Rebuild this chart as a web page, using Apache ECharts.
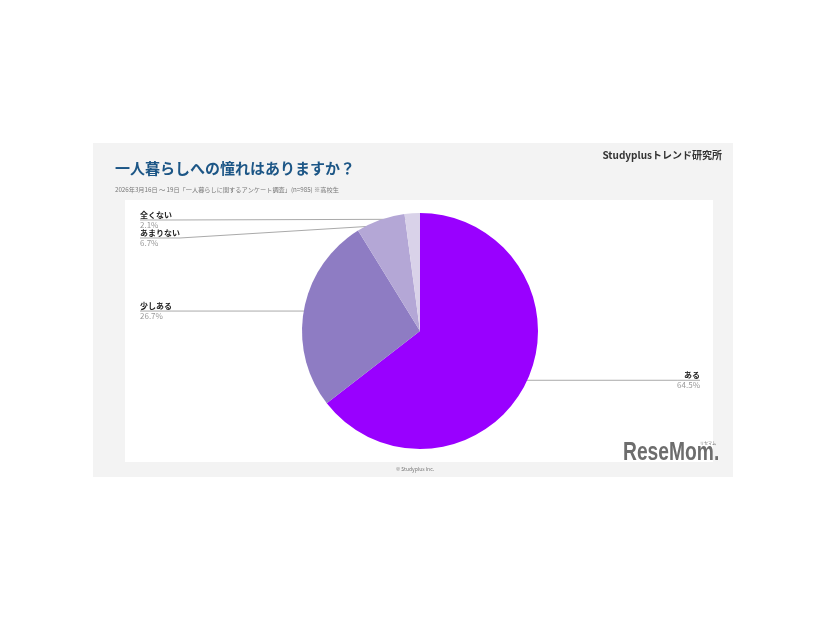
<!DOCTYPE html>
<html><head><meta charset="utf-8">
<script src="https://cdn.jsdelivr.net/npm/echarts@6/dist/echarts.min.js"></script>
<style>html,body{margin:0;padding:0;background:#fff}#c{width:826px;height:620px}</style>
</head><body><div id="c"></div>
<script>
const categories = ['ある', '少しある', 'あまりない', '全くない'];
const values = [64.5, 26.7, 6.7, 2.1];
const colors = ['#9900ff', '#8e7cc3', '#b4a7d6', '#d9d2e9'];
const titleText = '一人暮らしへの憧れはありますか？';
const subtitleText = '2026年3月16日 〜 19日「一人暮らしに関するアンケート調査」(n=985) ※高校生';
const font = '"Noto Sans CJK JP", "Noto Sans", sans-serif';

const chart = echarts.init(document.getElementById('c'), null, {renderer: 'canvas'});
const cxAbs = 420, cyAbs = 331;
const option = {
  backgroundColor: '#ffffff',
  animation: false,
  graphic: [
    {type: 'rect', z: -10, shape: {x: 93, y: 143, width: 640, height: 334}, style: {fill: '#f3f3f3'}},
    {type: 'rect', z: -9, shape: {x: 125, y: 200, width: 588, height: 262}, style: {fill: '#ffffff'}},
    {type: 'text', x: 115, y: 168, style: {text: titleText, font: 'bold 15px ' + font, fill: '#1c5686', verticalAlign: 'middle'}},
    {type: 'text', x: 115, y: 190, style: {text: subtitleText, font: '6.2px ' + font, fill: '#777', verticalAlign: 'middle'}},
    {type: 'text', x: 722, y: 155, style: {text: 'Studyplusトレンド研究所', font: 'bold 10px ' + font, fill: '#333', align: 'right', verticalAlign: 'middle'}},
    {type: 'text', x: 415, y: 469, style: {text: '© Studyplus Inc.', font: '5px ' + font, fill: '#777', align: 'center', verticalAlign: 'middle'}},
    {type: 'text', x: 623, y: 453, scaleX: 0.77, style: {text: 'ReseMom.', font: 'bold 25px "Liberation Sans", Arial, sans-serif', fill: '#6d6d6d', verticalAlign: 'middle'}},
    {type: 'text', x: 716, y: 443, style: {text: 'リセマム', font: '4px ' + font, fill: '#6d6d6d', align: 'right', verticalAlign: 'middle'}}
  ],
  series: [{
    type: 'pie',
    left: 140, right: 126, top: 211, bottom: 158,
    center: [cxAbs - 140, cyAbs - 211],
    radius: 118,
    startAngle: 90,
    clockwise: true,
    avoidLabelOverlap: true,
    data: categories.map((c, i) => ({name: c, value: values[i], itemStyle: {color: colors[i]}})),
    label: {
      show: true,
      position: 'outside',
      alignTo: 'edge',
      edgeDistance: 0,
      minMargin: 0,
      formatter: p => '{n|' + p.name + '}\n{p|' + p.value.toFixed(1) + '%}',
      rich: {
        n: {fontFamily: font, fontSize: 8, fontWeight: 'bold', color: '#222', lineHeight: 10},
        p: {fontFamily: font, fontSize: 8, color: '#999', lineHeight: 10}
      }
    },
    labelLine: {show: true, length: 1, length2: 0, lineStyle: {color: '#aaa', width: 1}},
    emphasis: {disabled: true}
  }]
};
option.series[0].labelLayout = function (params) {
  const pts = params.labelLinePoints;
  const r = params.labelRect;
  if (!pts) return {};
  const isLeft = r.x + r.width / 2 < cxAbs;
  let y = pts[pts.length - 1][1];
  // start the leader a few px inside the slice, like the original
  const dx = cxAbs - pts[0][0], dy = cyAbs - pts[0][1];
  const d = Math.sqrt(dx * dx + dy * dy) || 1;
  const start = [pts[0][0] + dx / d * 6, pts[0][1] + dy / d * 6];
  const res = {};
  if (Math.abs(start[1] - y) < 5 && Math.abs(start[1] - y) > 0.5 && start[1] > 260) {
    res.y = r.y + r.height / 2 + (start[1] - y);
    y = start[1];
  }
  const near = isLeft ? r.x + r.width : r.x;
  const far = isLeft ? r.x : r.x + r.width;
  res.labelLinePoints = [start, [near, y], [far, y]];
  return res;
};
chart.setOption(option);
</script>
</body></html>
